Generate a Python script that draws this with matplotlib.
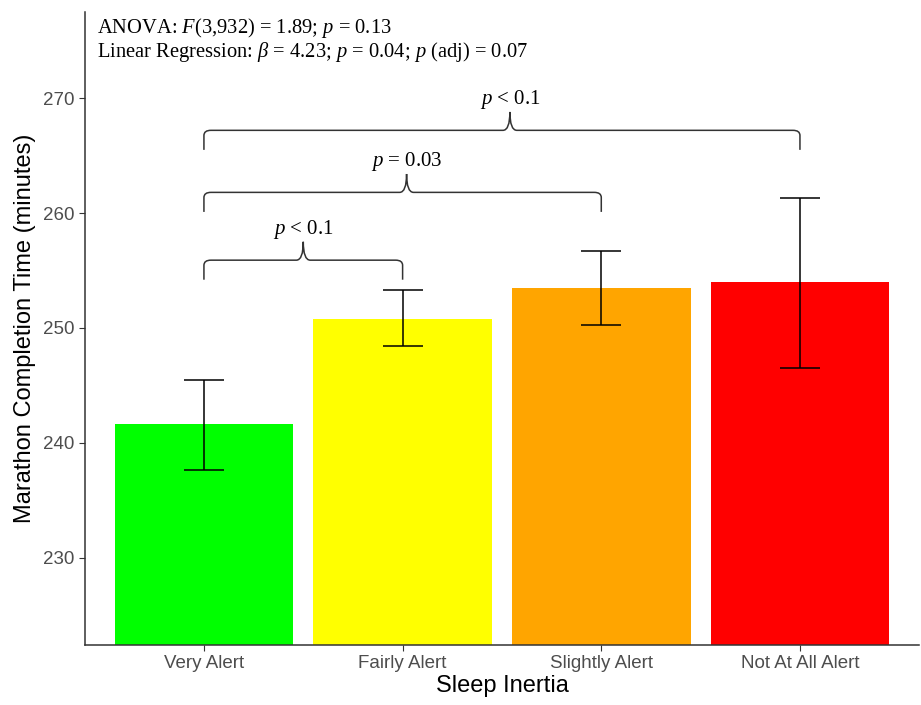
import matplotlib
matplotlib.use('Agg')
import matplotlib.pyplot as plt
from matplotlib.path import Path
from matplotlib.patches import PathPatch

plt.rcParams['font.family'] = ['Liberation Sans', 'DejaVu Sans']
plt.rcParams['mathtext.fontset'] = 'custom'
plt.rcParams['mathtext.rm'] = 'Liberation Serif'
plt.rcParams['mathtext.it'] = 'Liberation Serif:italic'

# data
categories = ['Very Alert', 'Fairly Alert', 'Slightly Alert', 'Not At All Alert']
means = [241.6, 250.8, 253.5, 254.0]
ci_low = [237.6, 248.4, 250.3, 246.5]
ci_high = [245.5, 253.3, 256.7, 261.3]
bar_colors = ['#00FF00', '#FFFF00', '#FFA500', '#FF0000']

# pairwise comparisons (index pairs) and their labels
pairs = [(0, 1), (0, 2), (0, 3)]
pair_labels = [r'$\mathit{p}$ < 0.1', r'$\mathit{p}$ = 0.03', r'$\mathit{p}$ < 0.1']
brace_y = [255.9, 261.8, 267.2]
brace_tip = [1.5, 2.02, 2.54]

fig = plt.figure(figsize=(9.21, 7.05), dpi=100)
ax = fig.add_axes([0.092, 0.085, 0.906, 0.898])

x = list(range(1, len(categories) + 1))
ax.bar(x, [m - 200 for m in means], bottom=200, width=0.9, color=bar_colors)
yerr = [[m - lo for m, lo in zip(means, ci_low)], [hi - m for m, hi in zip(means, ci_high)]]
ax.errorbar(x, means, yerr=yerr, fmt='none', ecolor='black', elinewidth=1.1,
            capsize=14.5, capthick=1.1)


def brace(ax, x1, x2, xt, yh, dend=1.7, tip=1.6, rx=0.035, ry=0.45):
    verts = [(x1, yh - dend), (x1, yh - ry), (x1, yh), (x1 + rx, yh),
             (xt - rx, yh), (xt, yh), (xt, yh + tip),
             (xt, yh), (xt + rx, yh),
             (x2 - rx, yh), (x2, yh), (x2, yh - ry), (x2, yh - dend)]
    codes = [Path.MOVETO, Path.LINETO, Path.CURVE3, Path.CURVE3,
             Path.LINETO, Path.CURVE3, Path.CURVE3,
             Path.CURVE3, Path.CURVE3,
             Path.LINETO, Path.CURVE3, Path.CURVE3, Path.LINETO]
    ax.add_patch(PathPatch(Path(verts, codes), fill=False, lw=1.1,
                           edgecolor='#333333', capstyle='butt'))


for (a, b), lab, yh, xt in zip(pairs, pair_labels, brace_y, brace_tip):
    brace(ax, x[a], x[b], xt, yh)
    ax.text(xt, yh + 2.7, lab, ha='center', va='center', fontsize=15,
            family='Liberation Serif')

ax.text(0.46, 276.1, r'ANOVA: $\mathit{F}$(3,932) = 1.89; $\mathit{p}$ = 0.13',
        ha='left', va='center', fontsize=14.8, family='Liberation Serif')
ax.text(0.46, 274.0,
        r'Linear Regression: $\mathit{\beta}$ = 4.23; $\mathit{p}$ = 0.04; $\mathit{p}$ (adj) = 0.07',
        ha='left', va='center', fontsize=14.8, family='Liberation Serif')

ax.set_xlim(0.4, 4.6)
ax.set_ylim(222.4, 277.5)
ax.set_xticks(x)
ax.set_xticklabels(categories)
ax.set_yticks([230, 240, 250, 260, 270])
ax.tick_params(colors='#333333', labelcolor='#4D4D4D', labelsize=13.5, length=4)
ax.set_xlabel('Sleep Inertia', fontsize=17, labelpad=2)
ax.set_ylabel('Marathon Completion Time (minutes)', fontsize=17, labelpad=5)
for s in ['top', 'right']:
    ax.spines[s].set_visible(False)
for s in ['left', 'bottom']:
    ax.spines[s].set_color('#333333')
    ax.spines[s].set_linewidth(1.1)

fig.savefig('out.png', dpi=100)
